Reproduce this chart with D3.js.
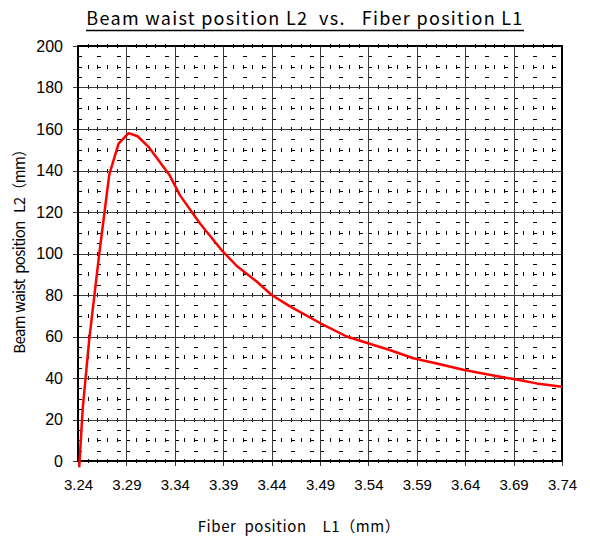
<!DOCTYPE html>
<html>
<head>
<meta charset="utf-8">
<script src="https://cdn.jsdelivr.net/npm/d3@7"></script>
<style>
  body { margin: 0; background: #fff; }
  svg { display: block; }
</style>
</head>
<body>
<div id="chart"></div>
<script>
// data
const fiberL1 = [3.2413, 3.2448, 3.2517, 3.262, 3.2723, 3.2819, 3.2923, 3.3016, 3.3136, 3.3343,
  3.3454, 3.366, 3.3895, 3.404, 3.4246, 3.44, 3.459, 3.49, 3.5176, 3.542,
  3.562, 3.5864, 3.6105, 3.638, 3.6622, 3.6897, 3.7138, 3.74];
const waistL2 = [-3, 25, 59, 100, 138, 153, 158, 156.5, 151, 138,
  128, 114.5, 101, 94, 86.5, 80, 74.5, 66.5, 60, 56.4,
  53.5, 49.5, 47, 44, 41.8, 39.5, 37.4, 35.8];
const xTicks = [3.24, 3.29, 3.34, 3.39, 3.44, 3.49, 3.54, 3.59, 3.64, 3.69, 3.74];
const yTicks = [0, 20, 40, 60, 80, 100, 120, 140, 160, 180, 200];

const width = 590;
const height = 543;
const marginTop = 46;
const marginRight = 28;
const marginBottom = 82;
const marginLeft = 78;

const x = d3.scaleLinear().domain([3.24, 3.74]).range([marginLeft, width - marginRight]);
const y = d3.scaleLinear().domain([0, 200]).range([height - marginBottom, marginTop]);
const px = (v) => Math.round(v) + 0.5;

const svg = d3.select("#chart").append("svg")
  .attr("width", width)
  .attr("height", height)
  .attr("viewBox", [0, 0, width, height]);

const grid = svg.append("g")
  .attr("stroke", "#000")
  .attr("stroke-width", 1)
  .attr("shape-rendering", "crispEdges");

// minor vertical marks: every 0.01 in x, every 10 in y
const minorX = d3.range(0, 51).map((i) => 3.24 + i * 0.01).filter((_, i) => i % 5 !== 0);
const midY = d3.range(0, 201, 10);
for (const xv of minorX) {
  for (const yv of midY) {
    grid.append("line")
      .attr("x1", px(x(xv))).attr("x2", px(x(xv)))
      .attr("y1", Math.round(y(yv)) - 2).attr("y2", Math.round(y(yv)) + 2);
  }
}

// minor horizontal marks: every 5 in y, at 0, .02, .04 of each major cell
const minorY = d3.range(0, 201, 5).filter((v) => v % 20 !== 0);
const cellX = [];
xTicks.slice(0, -1).forEach((x0) => [0, 0.02, 0.04].forEach((o) => cellX.push(x0 + o)));
for (const yv of minorY) {
  for (const xv of cellX) {
    grid.append("line")
      .attr("x1", Math.round(x(xv))).attr("x2", Math.round(x(xv)) + 4)
      .attr("y1", px(y(yv))).attr("y2", px(y(yv)));
  }
}

// major grid
svg.append("g")
  .attr("stroke", "#3a3a3a")
  .attr("stroke-width", 1)
  .attr("shape-rendering", "crispEdges")
  .call((g) => g.selectAll(".gx").data(xTicks).join("line")
    .attr("class", "gx")
    .attr("x1", (d) => px(x(d))).attr("x2", (d) => px(x(d)))
    .attr("y1", y(200)).attr("y2", y(0) + 5))
  .call((g) => g.selectAll(".gy").data(yTicks).join("line")
    .attr("class", "gy")
    .attr("x1", x(3.24) - 5).attr("x2", x(3.74))
    .attr("y1", (d) => px(y(d))).attr("y2", (d) => px(y(d))));

// frame
svg.append("rect")
  .attr("x", x(3.24)).attr("y", y(200))
  .attr("width", x(3.74) - x(3.24)).attr("height", y(0) - y(200))
  .attr("fill", "none").attr("stroke", "#000").attr("stroke-width", 2);

// axes labels
const sans = "'Liberation Sans', Arial, sans-serif";
svg.append("g")
  .attr("transform", `translate(${marginLeft},0)`)
  .call(d3.axisLeft(y).tickValues(yTicks).tickSize(0).tickPadding(15))
  .attr("font-family", sans)
  .attr("font-size", 16)
  .call((g) => g.select(".domain").remove());

svg.append("g")
  .attr("transform", `translate(0,${height - marginBottom})`)
  .call(d3.axisBottom(x).tickValues(xTicks).tickFormat(d3.format(".2f")).tickSize(0).tickPadding(18))
  .attr("font-family", sans)
  .attr("font-size", 15)
  .call((g) => g.select(".domain").remove());

// curve
const line = d3.line()
  .x((d) => x(d[0]))
  .y((d) => y(d[1]));

svg.append("path")
  .attr("d", line(d3.zip(fiberL1, waistL2)))
  .attr("fill", "none")
  .attr("stroke", "#ff0000")
  .attr("stroke-width", 2.5)
  .attr("stroke-linejoin", "round");

// titles, spaced out to the widths seen in the picture
const jp = "'Noto Sans CJK JP', 'DejaVu Sans', sans-serif";
function fitText(sel, target) {
  const n = sel.text().length;
  const w = sel.node().getComputedTextLength();
  sel.attr("letter-spacing", (target - w) / (n - 1));
}

const title = svg.append("text")
  .attr("x", 305).attr("y", 25)
  .attr("text-anchor", "middle")
  .attr("font-family", jp)
  .attr("font-size", 18)
  .style("white-space", "pre")
  .text("Beam waist position L2  vs.   Fiber position L1");
fitText(title, 436);
const tb = title.node().getBBox();
svg.append("line")
  .attr("x1", 86).attr("x2", 524)
  .attr("y1", 30.5).attr("y2", 30.5)
  .attr("stroke", "#000").attr("stroke-width", 1.3);

const ylab = svg.append("text")
  .attr("transform", "translate(25,248) rotate(-90)")
  .attr("text-anchor", "middle")
  .attr("font-family", jp)
  .attr("font-size", 15)
  .style("white-space", "pre")
  .text("Beam waist  position   L2（mm）");
fitText(ylab, 212);

const xlab = svg.append("text")
  .attr("x", 299).attr("y", 532)
  .attr("text-anchor", "middle")
  .attr("font-family", jp)
  .attr("font-size", 15)
  .style("white-space", "pre")
  .text("Fiber  position    L1（mm）");
fitText(xlab, 202);
</script>
</body>
</html>
